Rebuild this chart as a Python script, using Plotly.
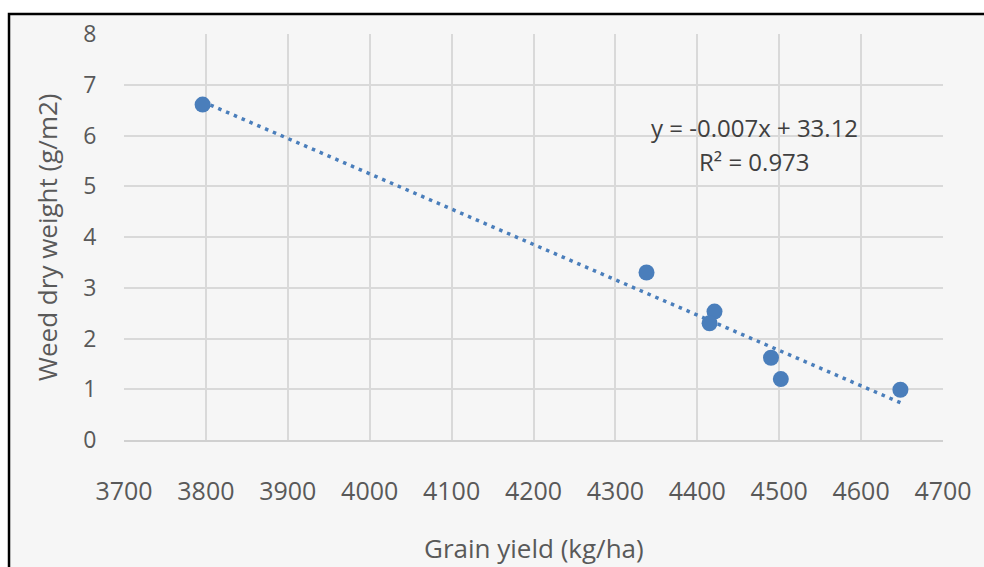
import numpy as np
import plotly.graph_objects as go

# Data
grain_yield = [3796, 4338, 4421, 4415, 4490, 4502, 4648]
weed_dry_weight = [6.61, 3.30, 2.53, 2.30, 1.62, 1.20, 0.99]

x_ticks = [3700, 3800, 3900, 4000, 4100, 4200, 4300, 4400, 4500, 4600, 4700]
y_ticks = [0, 1, 2, 3, 4, 5, 6, 7, 8]

equation_text = "y = -0.007x + 33.12"
r2_text = "R² = 0.973"

x_title = "Grain yield (kg/ha)"
y_title = "Weed dry weight (g/m2)"

# Linear trendline (least squares) spanning the data range
slope, intercept = np.polyfit(grain_yield, weed_dry_weight, 1)
trend_x = [min(grain_yield), max(grain_yield)]
trend_y = [slope * v + intercept for v in trend_x]

blue = "#4a7ebb"
tick_color = "#595959"
font_family = "Open Sans, DejaVu Sans, sans-serif"

fig = go.Figure()
fig.add_trace(go.Scatter(
    x=trend_x, y=trend_y, mode="lines",
    line=dict(color=blue, width=3.5, dash="3.5px,5px"),
    hoverinfo="skip", showlegend=False,
))
fig.add_trace(go.Scatter(
    x=grain_yield, y=weed_dry_weight, mode="markers",
    marker=dict(color=blue, size=16, line=dict(width=0)),
    showlegend=False,
))

# Outer chart frame
fig.add_shape(
    type="rect", xref="paper", yref="paper",
    x0=-0.1404, x1=1.06, y0=-0.34, y1=1.049,
    fillcolor="#f6f6f6", line=dict(color="black", width=2.5),
    layer="below",
)

fig.add_annotation(
    xref="paper", yref="paper", x=0.77, y=(440 - 127) / 406,
    text=equation_text, showarrow=False,
    font=dict(family=font_family, size=24, color="#404040"),
    xanchor="center", yanchor="middle",
)
fig.add_annotation(
    xref="paper", yref="paper", x=0.77, y=(440 - 161) / 406,
    text=r2_text, showarrow=False,
    font=dict(family=font_family, size=24, color="#404040"),
    xanchor="center", yanchor="middle",
)
fig.add_annotation(
    xref="paper", yref="paper", x=0.5, y=(440 - 548) / 406,
    text=x_title, showarrow=False,
    font=dict(family=font_family, size=26, color=tick_color),
    xanchor="center", yanchor="middle",
)
fig.add_annotation(
    xref="paper", yref="paper", x=(47 - 124) / 819, y=0.5,
    text=y_title, showarrow=False, textangle=-90,
    font=dict(family=font_family, size=26, color=tick_color),
    xanchor="center", yanchor="middle",
)

fig.update_layout(
    width=984, height=567,
    margin=dict(l=124, r=41, t=34, b=127),
    paper_bgcolor="white",
    plot_bgcolor="rgba(0,0,0,0)",
    xaxis=dict(
        range=[3700, 4700], tickvals=x_ticks, ticktext=[str(v) for v in x_ticks],
        showgrid=True, gridcolor="#d9d9d9", gridwidth=1.5,
        showline=True, linecolor="#d0d0d0", linewidth=1.5,
        zeroline=False, ticks="outside", ticklen=28, tickcolor="rgba(0,0,0,0)",
        tickfont=dict(family=font_family, size=25, color=tick_color),
        fixedrange=True,
    ),
    yaxis=dict(
        range=[0, 8], tickvals=y_ticks, ticktext=[str(v) for v in y_ticks],
        showgrid=True, gridcolor="#d9d9d9", gridwidth=1.5,
        showline=False, zeroline=False,
        ticks="outside", ticklen=22, tickcolor="rgba(0,0,0,0)",
        tickfont=dict(family=font_family, size=23, color=tick_color),
        fixedrange=True,
    ),
)

fig.write_html(
    "out.html",
    config={"displayModeBar": False},
    post_script="document.body.style.margin='0';document.body.style.overflow='hidden';",
)
